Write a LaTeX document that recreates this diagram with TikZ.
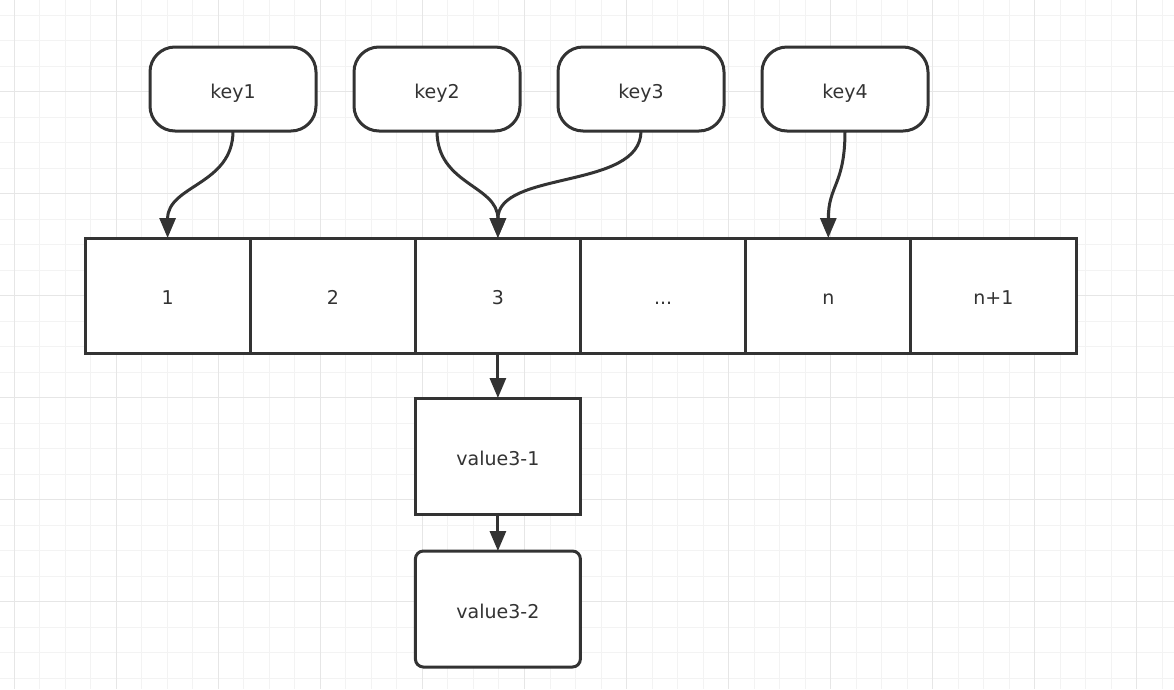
\documentclass[tikz,border=0pt]{standalone}
\usepackage{fontspec}
\setmainfont{DejaVu Sans}
\usetikzlibrary{arrows.meta}
\definecolor{ink}{HTML}{333333}
\definecolor{gridminor}{HTML}{F3F3F3}
\definecolor{gridmajor}{HTML}{E6E6E6}
\begin{document}
\begin{tikzpicture}[x=1pt,y=-1pt,
  base/.style={draw=ink, line width=3pt, fill=white, inner sep=0pt, outer sep=0pt,
    text=ink, font=\fontsize{19}{21}\selectfont, text height=18pt, text depth=0pt},
  keybox/.style={base, rounded corners=25pt, minimum width=166pt, minimum height=84pt},
  cellbox/.style={base, minimum width=165.17pt, minimum height=115pt},
  valbox/.style={base, minimum width=165pt, minimum height=116pt},
  link/.style={draw=ink, line width=3pt, -{Triangle[length=20pt,width=16pt]}},
  minorline/.style={draw=gridminor, line width=1pt},
  majorline/.style={draw=gridmajor, line width=1pt}]
\useasboundingbox (0,0) rectangle (1174,689);
\fill[white] (0,0) rectangle (1174,689);
% grid
\foreach \k in {0,...,45} {
  \pgfmathsetmacro\xx{14.3+25.51*\k}
  \draw[minorline] (\xx,0) -- (\xx,689);
}
\foreach \k in {0,...,26} {
  \pgfmathsetmacro\yy{15+25.51*\k}
  \draw[minorline] (0,\yy) -- (1174,\yy);
}
\foreach \k in {0,4,...,44} {
  \pgfmathsetmacro\xx{14.3+25.51*\k}
  \draw[majorline] (\xx,0) -- (\xx,689);
}
\foreach \k in {3,7,...,23} {
  \pgfmathsetmacro\yy{15+25.51*\k}
  \draw[majorline] (0,\yy) -- (1174,\yy);
}
% keys
\node[keybox] (k1) at (233,89) {key1};
\node[keybox] (k2) at (437,89) {key2};
\node[keybox] (k3) at (641,89) {key3};
\node[keybox] (k4) at (845,89) {key4};
% array cells
\node[cellbox] (c1) at (167.6,295.5) {1};
\node[cellbox] (c2) at (332.8,295.5) {2};
\node[cellbox] (c3) at (497.9,295.5) {3};
\node[cellbox] (c4) at (663.1,295.5) {...};
\node[cellbox] (c5) at (828.3,295.5) {n};
\node[cellbox] (c6) at (993.4,295.5) {n+1};
% values
\node[valbox] (v1) at (497.9,456) {value3-1};
\node[valbox, rounded corners=8pt] (v2) at (497.9,609) {value3-2};
% connectors
\draw[link] (k1.south) .. controls +(0,54) and +(0,-53) .. (c1.north);
\draw[link] (k2.south) .. controls +(0,54) and +(0,-53) .. (c3.north);
\draw[link] (k3.south) .. controls +(0,59) and +(0,-68) .. (c3.north);
\draw[link] (k4.south) .. controls +(0,54) and +(0,-53) .. (c5.north);
\draw[link] (c3.south) -- (v1.north);
\draw[link] (v1.south) -- (v2.north);
\end{tikzpicture}
\end{document}
